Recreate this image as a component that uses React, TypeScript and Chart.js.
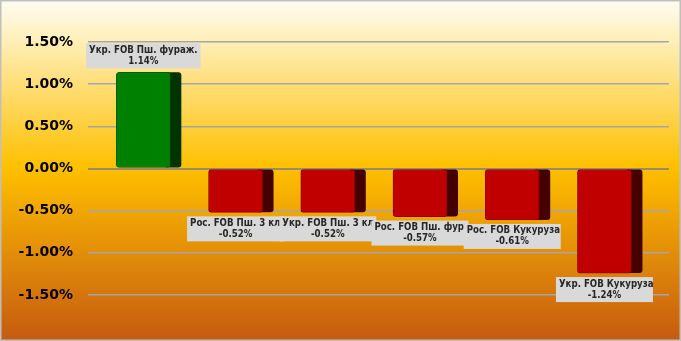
import React, { useEffect, useRef } from 'react';
import { Chart, registerables } from 'chart.js';

Chart.register(...registerables);

const categories = [
  'Укр. FOB Пш. фураж.',
  'Рос. FOB Пш. 3 кл.',
  'Укр. FOB Пш. 3 кл.',
  'Рос. FOB Пш. фураж.',
  'Рос. FOB Кукуруза',
  'Укр. FOB Кукуруза',
];
const values = [1.14, -0.52, -0.52, -0.57, -0.61, -1.24];
const yTicks = [-1.5, -1.0, -0.5, 0, 0.5, 1.0, 1.5];

const W = 681;
const H = 341;

const posFront = '#008000';
const negFront = '#C00000';
const posSide = '#003300';
const negSide = '#450000';

const labelFont = 'bold 9.6px "DejaVu Sans Condensed", "DejaVu Sans"';

function rr(ctx: CanvasRenderingContext2D, x: number, y: number, w: number, h: number, r: number) {
  ctx.beginPath();
  ctx.moveTo(x + r, y);
  ctx.lineTo(x + w - r, y);
  ctx.quadraticCurveTo(x + w, y, x + w, y + r);
  ctx.lineTo(x + w, y + h - r);
  ctx.quadraticCurveTo(x + w, y + h, x + w - r, y + h);
  ctx.lineTo(x + r, y + h);
  ctx.quadraticCurveTo(x, y + h, x, y + h - r);
  ctx.lineTo(x, y + r);
  ctx.quadraticCurveTo(x, y, x + r, y);
  ctx.closePath();
}

const bgPlugin = {
  id: 'bg',
  beforeDraw(chart: any) {
    const ctx = chart.ctx as CanvasRenderingContext2D;
    ctx.save();
    const g = ctx.createLinearGradient(0, 0, 0, H);
    g.addColorStop(0, '#FFFDF2');
    g.addColorStop(0.49, '#FFC000');
    g.addColorStop(1, '#C55A11');
    ctx.fillStyle = g;
    ctx.fillRect(0, 0, W, H);
    ctx.strokeStyle = '#BFBFBF';
    ctx.lineWidth = 1.5;
    ctx.strokeRect(0.75, 0.75, W - 1.5, H - 1.5);
    ctx.restore();
  },
};

const sidePlugin = {
  id: 'side3d',
  beforeDatasetsDraw(chart: any) {
    const ctx = chart.ctx as CanvasRenderingContext2D;
    const meta = chart.getDatasetMeta(0);
    ctx.save();
    meta.data.forEach((el: any, i: number) => {
      const p = el.getProps(['x', 'y', 'base', 'width'], true);
      const right = p.x + p.width / 2;
      const top = Math.min(p.y, p.base);
      const bottom = Math.max(p.y, p.base);
      ctx.fillStyle = values[i] >= 0 ? posSide : negSide;
      rr(ctx, right - 6, top, 17, bottom - top, 3);
      ctx.fill();
    });
    ctx.restore();
  },
};

const labelPlugin = {
  id: 'boxLabels',
  afterDatasetsDraw(chart: any) {
    const ctx = chart.ctx as CanvasRenderingContext2D;
    const meta = chart.getDatasetMeta(0);
    ctx.save();
    ctx.font = labelFont;
    ctx.textBaseline = 'middle';
    meta.data.forEach((el: any, i: number) => {
      const p = el.getProps(['x', 'y', 'base', 'width'], true);
      const name = categories[i];
      const val = values[i].toFixed(2) + '%';
      const tw = Math.max(ctx.measureText(name).width, ctx.measureText(val).width);
      const maxW = values[i] >= 0 ? 130 : 97;
      const bw = Math.min(tw + 6, maxW);
      const bh = 25;
      const bx = p.x - bw / 2;
      const by = values[i] >= 0 ? Math.min(p.y, p.base) - 4 - bh : Math.max(p.y, p.base) + 4;
      ctx.fillStyle = '#D9D9D9';
      ctx.fillRect(bx, by, bw, bh);
      ctx.save();
      ctx.beginPath();
      ctx.rect(bx, by, bw, bh);
      ctx.clip();
      ctx.fillStyle = '#262626';
      const nw = ctx.measureText(name).width;
      if (nw + 6 > bw) {
        ctx.textAlign = 'left';
        ctx.fillText(name, bx + 3, by + 7);
      } else {
        ctx.textAlign = 'center';
        ctx.fillText(name, bx + bw / 2, by + 7);
      }
      ctx.textAlign = 'center';
      ctx.fillText(val, bx + bw / 2, by + 18);
      ctx.restore();
    });
    ctx.restore();
  },
};

export default function App() {
  const ref = useRef<HTMLCanvasElement | null>(null);
  useEffect(() => {
    if (!ref.current) return;
    const chart = new Chart(ref.current, {
      type: 'bar',
      data: {
        datasets: [
          {
            data: values.map((v, i) => ({ x: i, y: v })),
            backgroundColor: values.map((v) => (v >= 0 ? posFront : negFront)),
            borderColor: values.map((v) => (v >= 0 ? '#006000' : '#900000')),
            borderWidth: 1,
            borderRadius: 3,
            borderSkipped: false,
            barThickness: 54,
          },
        ],
      },
      options: {
        responsive: false,
        animation: false,
        layout: { padding: { left: 8, right: 12, top: 42, bottom: 46 } },
        plugins: {
          legend: { display: false },
          tooltip: { enabled: false },
        },
        scales: {
          x: {
            type: 'linear',
            display: false,
            offset: false,
            min: -0.6,
            max: 5.7,
          },
          y: {
            min: -1.5,
            max: 1.5,
            afterBuildTicks: (scale: any) => {
              scale.ticks = yTicks.map((v) => ({ value: v }));
            },
            afterFit: (scale: any) => {
              scale.width = 80;
            },
            border: { display: false },
            grid: {
              drawTicks: false,
              color: (c: any) => (c.tick && c.tick.value === 0 ? '#9A8A70' : '#A6A6A6'),
              lineWidth: (c: any) => (c.tick && c.tick.value === 0 ? 2 : 1.5),
            },
            ticks: {
              padding: 15,
              color: '#000000',
              font: { family: '"DejaVu Sans"', weight: 'bold', size: 14 },
              callback: (v: any) => Number(v).toFixed(2) + '%',
            },
          },
        },
      },
      plugins: [bgPlugin, sidePlugin, labelPlugin],
    } as any);
    return () => chart.destroy();
  }, []);
  return (
    <div style={{ position: 'absolute', left: 0, top: 0, width: W, height: H }}>
      <canvas ref={ref} width={W} height={H} style={{ width: W, height: H, display: 'block' }} />
    </div>
  );
}
